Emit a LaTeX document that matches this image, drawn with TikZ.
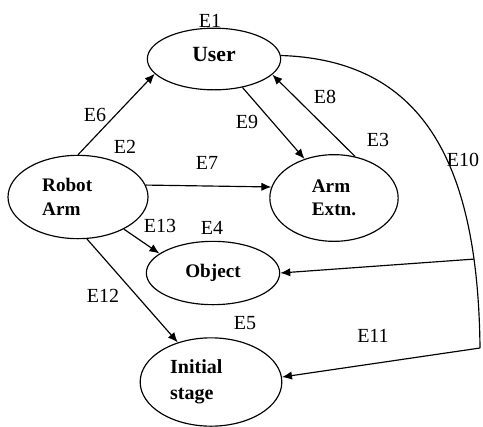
\documentclass[tikz,border=0pt]{standalone}
\usepackage{fontspec}
\setmainfont{Liberation Serif}
\usepackage{tikz}
\usetikzlibrary{shapes.geometric,arrows.meta}

\tikzset{
  state/.style={ellipse, draw, line width=0.7pt, inner sep=0pt, align=left,
    font=\fontsize{11.5}{14}\selectfont\bfseries},
  elabel/.style={font=\fontsize{12}{14}\selectfont},
  link/.style={line width=0.7pt, -{Latex[length=6pt,width=5pt]}}
}

\begin{document}
\begin{tikzpicture}[x=0.6pt, y=-0.6pt]
  \useasboundingbox (0,0) rectangle (483,426);

  % States
  \node[state, minimum width=80pt, minimum height=37pt, text depth=6pt,
    font=\fontsize{13}{15}\selectfont\bfseries] (user) at (214,59) {User};
  \node[state, minimum width=84pt, minimum height=50pt, text width=43pt] (robot) at (78,197) {Robot\\Arm};
  \node[state, minimum width=77pt, minimum height=52pt] (extn) at (334,198) {Arm\\Extn.};
  \node[state, minimum width=80pt, minimum height=38pt] (object) at (213,273) {Object};
  \node[state, minimum width=85pt, minimum height=53pt, text width=49pt,
    font=\fontsize{12}{15.5}\selectfont\bfseries] (init) at (211,382) {Initial\\stage};

  % State labels
  \node[elabel] (e1) at (210,21) {E1};
  \node[elabel] (e2) at (125,147) {E2};
  \node[elabel] (e3) at (378,140) {E3};
  \node[elabel] (e4) at (212,228) {E4};
  \node[elabel] (e5) at (245,323) {E5};

  % Transitions
  \draw[link] (robot.north) -- (user.194);
  \draw[link] (user.-45) -- (extn.127);
  \draw[link] (extn.63) -- (user.-15);
  \draw[link] (robot.10) -- (extn.170);
  \draw[link] (robot.-35) -- (object.160);
  \draw[link] (robot.-78) -- (init.130);

  % Long return path from the user
  \draw[line width=0.7pt] (user.3) .. controls (420,60) and (478,158) .. (480,348)
    coordinate[pos=0.83] (split) coordinate (bend);
  \draw[link] (split) -- (object.east);
  \draw[link] (bend) -- (init.4);

  % Transition labels
  \node[elabel] (e6) at (95,115) {E6};
  \node[elabel] (e7) at (207,163) {E7};
  \node[elabel] (e8) at (325,97) {E8};
  \node[elabel] (e9) at (247,122) {E9};
  \node[elabel] (e10) at (463,160) {E10};
  \node[elabel] (e11) at (373,336) {E11};
  \node[elabel] (e12) at (103,296) {E12};
  \node[elabel] (e13) at (160,226) {E13};
\end{tikzpicture}
\end{document}
